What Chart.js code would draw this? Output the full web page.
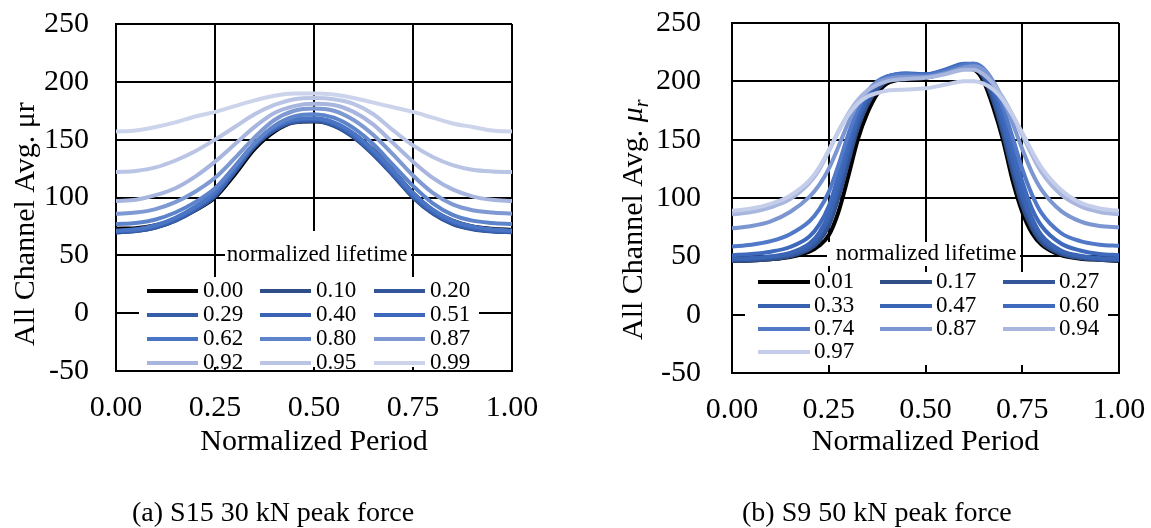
<!DOCTYPE html>
<html>
<head>
<meta charset="utf-8">
<script src="https://cdn.jsdelivr.net/npm/chart.js@4.4.1/dist/chart.umd.min.js"></script>
<style>
  html, body { margin: 0; padding: 0; background: #fff; }
  body { width: 1151px; height: 528px; position: relative; overflow: hidden; font-family: 'Liberation Serif', 'Times New Roman', serif; }
  canvas { position: absolute; top: 0; }
  #chartA { left: 0; }
  #chartB { left: 600px; }
  .caption { position: absolute; top: 498px; font-size: 28px; line-height: 28px; color: #000; white-space: nowrap; }
</style>
</head>
<body>
<canvas id="chartA" width="600" height="528"></canvas>
<canvas id="chartB" width="551" height="528"></canvas>
<div class="caption" style="left:132px">(a) S15 30 kN peak force</div>
<div class="caption" style="left:742px">(b) S9 50 kN peak force</div>
<script>
// ---- S15, 30 kN: permeability over one normalized load period ----
var periodA = [0, 0.05, 0.10, 0.15, 0.20, 0.25, 0.30, 0.35, 0.40, 0.45, 0.50,
               0.55, 0.60, 0.65, 0.70, 0.75, 0.80, 0.85, 0.90, 0.95, 1.00];
var lifetimeA = ['0.00', '0.10', '0.20', '0.29', '0.40', '0.51', '0.62', '0.80', '0.87', '0.92', '0.95', '0.99'];
var colorsA = ['#000000', '#2f4e87', '#33569a', '#355da8', '#3a63b4', '#3d68bc',
               '#4a74c4', '#5d84cb', '#7f99d3', '#a7b5df', '#bac5e5', '#ccd4ec'];

var a000 = [73, 73.5, 76, 81, 89, 100, 120, 142, 157, 165, 166, 163, 155, 141, 123, 104, 89, 80, 75, 73, 72];
var a010 = [70, 71, 74, 80, 89, 101, 122, 144, 158, 165, 166, 162, 152, 137, 119, 100, 86, 77, 72.5, 70.5, 70];
var a020 = [70, 71, 74, 80, 89.5, 101.5, 122.5, 144.5, 158.5, 165.5, 166.5, 162.5, 152.5, 137.5, 119.5, 100.5, 86.5, 77.5, 73, 71, 70];
var a029 = [70.5, 71.5, 74.5, 80.5, 90, 102, 123, 145, 159, 166, 167, 163, 153, 138, 120, 101, 87, 78, 73, 71, 70.5];
var a040 = [70.5, 71.5, 75, 81, 90.5, 103, 124, 145.5, 159.5, 166.5, 167.5, 163.5, 153.5, 138.5, 120.5, 101.5, 87.5, 78.5, 73.5, 71.5, 70.5];
var a051 = [71, 72, 75.5, 81.5, 91, 103.5, 124.5, 146, 160, 167, 168, 164, 154, 139, 121, 102, 88, 79, 74, 72, 71];
var a062 = [71.5, 72.5, 76, 82.5, 92, 105, 126, 147, 161, 167.5, 168.5, 165, 155.5, 141, 123, 104, 89.5, 80, 75, 72.5, 71.5];
var a080 = [77, 78, 81, 87, 96, 108, 127, 147, 162, 170, 172, 169, 160, 146, 128, 110, 95, 85, 80, 78, 77];
var a087 = [86, 87, 90, 96, 105, 117, 134, 152, 167, 175, 177, 175, 167, 154, 137, 119, 104, 94, 89, 87, 86];
var a092 = [97, 98, 102, 108, 118, 131, 146, 161, 173, 179, 181, 180, 174, 163, 147, 131, 117, 107, 101, 98, 97];
var a095 = [122, 123, 126, 132, 140, 150, 161, 172, 180, 185, 186, 185, 181, 172, 158, 145, 135, 128, 124, 122.5, 122];
var a099 = [157, 158, 161, 165, 170, 174, 179, 184, 188, 190, 190, 189, 186, 182, 178, 174, 169, 164, 161, 158, 157];
var seriesA = [a000, a010, a020, a029, a040, a051, a062, a080, a087, a092, a095, a099];

// ---- S9, 50 kN ----
var periodB = [0, 0.05, 0.10, 0.15, 0.20, 0.225, 0.25, 0.275, 0.30, 0.325, 0.35, 0.375, 0.40, 0.45, 0.50,
               0.55, 0.60, 0.625, 0.65, 0.675, 0.70, 0.725, 0.75, 0.775, 0.80, 0.85, 0.90, 0.95, 1.00];
var lifetimeB = ['0.01', '0.17', '0.27', '0.33', '0.47', '0.60', '0.74', '0.87', '0.94', '0.97'];
var colorsB = ['#000000', '#2f4e87', '#33569a', '#3760ae', '#3a64b4', '#3e69bd',
               '#5179c8', '#7b96d1', '#a9b7df', '#c4cde9'];

var b001 = [46, 46.5, 47.5, 49.5, 54, 59, 68, 88, 118, 150, 173, 189, 198, 202, 203, 207, 211, 210, 200, 178, 150, 115, 88, 70, 60, 51, 48, 47, 46];
var b017 = [46, 46.5, 47.5, 50, 56, 63, 76, 100, 130, 160, 180, 193, 200, 205, 205, 208, 213, 212, 203, 183, 155, 122, 93, 74, 62, 52, 48.5, 47, 46.5];
var b027 = [47, 47.5, 48.5, 51, 57, 65, 79, 104, 134, 163, 182, 195, 201, 205, 205, 209, 214, 213, 205, 186, 158, 126, 97, 77, 64, 53, 49, 47.5, 47];
var b033 = [47.5, 48, 49.5, 52, 59, 68, 83, 109, 139, 166, 185, 197, 203, 206, 206, 209, 214, 214, 207, 189, 162, 130, 101, 80, 66, 54, 50, 48, 47.5];
var b047 = [48, 48.5, 50, 53, 61, 70, 86, 112, 142, 169, 187, 198, 204, 206, 205, 209, 214, 214, 208, 191, 165, 134, 105, 83, 68, 55, 50.5, 48.5, 48];
var b060 = [51, 52, 54, 58, 67, 77, 93, 119, 148, 172, 189, 199, 204, 207, 206, 210, 215, 215, 210, 195, 171, 142, 114, 91, 76, 61, 55, 52, 51];
var b074 = [58.5, 60, 63, 69, 80, 90, 105, 128, 154, 176, 191, 200, 204, 206, 205, 209, 214, 215, 211, 199, 178, 152, 125, 103, 87, 70, 63, 60, 59];
var b087 = [74, 76, 80, 88, 101, 111, 125, 144, 164, 181, 192, 199, 202, 204, 204, 207, 212, 213, 210, 200, 184, 164, 142, 122, 107, 89, 80, 76, 75];
var b094 = [86, 88, 92, 99, 113, 124, 140, 157, 172, 184, 192, 197, 200, 202, 203, 206, 210, 210, 206, 198, 186, 171, 154, 137, 122, 103, 93, 88, 86];
var b097 = [89, 91, 95, 102, 115, 126, 141, 157, 171, 181, 187, 190, 192, 193, 194, 197, 200, 200, 198, 193, 184, 171, 156, 140, 126, 107, 96, 91, 89];
var seriesB = [b001, b017, b027, b033, b047, b060, b074, b087, b094, b097];

var yTicks = { min: -50, max: 250, step: 50 };
var xTicks = { min: 0, max: 1, step: 0.25 };

var serif = "'Liberation Serif', 'Times New Roman', serif";
Chart.defaults.font.family = serif;
Chart.defaults.color = '#000';

function makeDatasets(xs, labels, colors, series) {
    return series.map(function (ys, i) {
        return {
            label: labels[i],
            data: xs.map(function (x, j) { return { x: x, y: ys[j] }; }),
            borderColor: colors[i],
            backgroundColor: colors[i],
            borderWidth: 4,
            pointRadius: 0,
            fill: false,
            cubicInterpolationMode: 'monotone',
            // later lifetimes are drawn on top
            order: series.length - i
        };
    });
}

// legend drawn inside the plot area on white boxes
function insideLegend(lg) {
    return {
        id: 'insideLegend',
        afterDraw: function (chart) {
            var ctx = chart.ctx, a = chart.chartArea;
            ctx.save();
            ctx.fillStyle = '#fff';
            ctx.fillRect(a.left + lg.titleBox[0], a.top + lg.titleBox[1], lg.titleBox[2], lg.titleBox[3]);
            ctx.fillRect(a.left + lg.itemBox[0], a.top + lg.itemBox[1], lg.itemBox[2], lg.itemBox[3]);
            ctx.fillStyle = '#000';
            ctx.font = '23px ' + serif;
            ctx.textAlign = 'center';
            ctx.textBaseline = 'middle';
            ctx.fillText(lg.title, a.left + lg.titleAt[0], a.top + lg.titleAt[1]);
            ctx.textAlign = 'left';
            ctx.lineWidth = 4;
            chart.data.datasets.forEach(function (ds, i) {
                var x = a.left + lg.colX[i % 3];
                var y = a.top + lg.rowY[Math.floor(i / 3)];
                ctx.strokeStyle = ds.borderColor;
                ctx.beginPath();
                ctx.moveTo(x, y);
                ctx.lineTo(x + lg.sample, y);
                ctx.stroke();
                ctx.fillText(ds.label, x + lg.sample + lg.gap, y);
            });
            ctx.restore();
        }
    };
}

// axis titles; the y one may mix italic and subscript parts
function axisTitles(t) {
    return {
        id: 'axisTitles',
        afterDraw: function (chart) {
            var ctx = chart.ctx, a = chart.chartArea;
            ctx.save();
            ctx.fillStyle = '#000';
            ctx.textBaseline = 'alphabetic';
            ctx.font = '30px ' + serif;
            ctx.textAlign = 'center';
            ctx.fillText(t.x, (a.left + a.right) / 2, t.xBaseline);
            ctx.translate(t.yBaseline, t.yStart);
            ctx.rotate(-Math.PI / 2);
            ctx.textAlign = 'left';
            var pos = 0;
            t.y.forEach(function (part) {
                ctx.font = part.font;
                ctx.fillText(part.text, pos, part.shift || 0);
                pos += ctx.measureText(part.text).width;
            });
            ctx.restore();
        }
    };
}

function makeOptions(cfg) {
    var grid = { color: '#000', lineWidth: 2, drawTicks: false };
    var border = { color: '#000', width: 2 };
    return {
        responsive: false,
        animation: false,
        devicePixelRatio: 1,
        layout: { padding: { top: cfg.top, right: cfg.right, left: 0, bottom: 0 } },
        plugins: {
            legend: { display: false },
            tooltip: { enabled: false }
        },
        scales: {
            x: {
                type: 'linear',
                min: xTicks.min,
                max: xTicks.max,
                afterFit: function (s) {
                    s.height = cfg.xHeight;
                    s.paddingLeft = 0;
                    s.paddingRight = 0;
                },
                ticks: {
                    stepSize: xTicks.step,
                    padding: 19,
                    maxRotation: 0,
                    font: { size: 30 },
                    callback: function (v) { return v.toFixed(2); }
                },
                grid: grid,
                border: border
            },
            y: {
                min: yTicks.min,
                max: yTicks.max,
                afterFit: function (s) {
                    s.width = cfg.yWidth;
                    s.paddingTop = 0;
                    s.paddingBottom = 0;
                },
                ticks: { stepSize: yTicks.step, padding: cfg.yPad, font: { size: 30 } },
                grid: grid,
                border: border
            }
        }
    };
}

new Chart(document.getElementById('chartA'), {
    type: 'line',
    data: { datasets: makeDatasets(periodA, lifetimeA, colorsA, seriesA) },
    options: makeOptions({ top: 24, right: 88, xHeight: 157, yWidth: 116, yPad: 27 }),
    plugins: [
        insideLegend({
            title: 'normalized lifetime',
            titleBox: [109, 207, 186, 47],
            titleAt: [201, 231],
            itemBox: [23, 253, 340, 90],
            rowY: [267, 291, 315, 339],
            colX: [31, 144, 258],
            sample: 51, gap: 5
        }),
        axisTitles({
            x: 'Normalized Period', xBaseline: 450,
            yBaseline: 34, yStart: 346,
            y: [{ text: 'All Channel Avg. μr', font: '30px ' + serif }]
        })
    ]
});

new Chart(document.getElementById('chartB'), {
    type: 'line',
    data: { datasets: makeDatasets(periodB, lifetimeB, colorsB, seriesB) },
    options: makeOptions({ top: 23, right: 32, xHeight: 155, yWidth: 132, yPad: 31 }),
    plugins: [
        insideLegend({
            title: 'normalized lifetime',
            titleBox: [95, 219, 193, 24],
            titleAt: [194, 231],
            itemBox: [13, 249, 363, 93],
            rowY: [259, 283, 306, 329],
            colX: [26, 148, 271],
            sample: 52, gap: 4
        }),
        axisTitles({
            x: 'Normalized Period', xBaseline: 450,
            yBaseline: 42, yStart: 340,
            y: [
                { text: 'All Channel Avg. ', font: '30px ' + serif },
                { text: 'μ', font: 'italic 30px ' + serif },
                { text: 'r', font: 'italic 20px ' + serif, shift: 6 }
            ]
        })
    ]
});
</script>
</body>
</html>
